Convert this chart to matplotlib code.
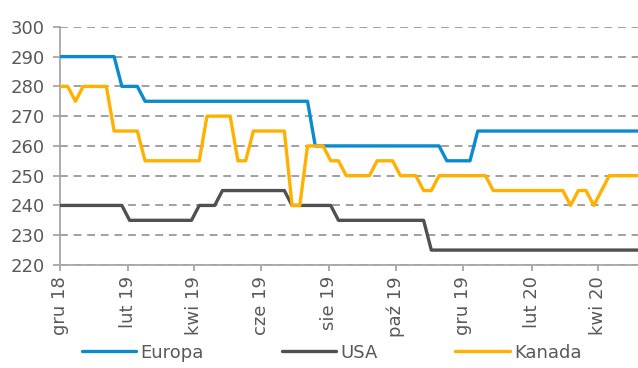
import pandas as pd
import matplotlib.pyplot as plt

# notowania tygodniowe od grudnia 2018
dates = pd.date_range('2018-12-01', periods=76, freq='7D')

europa = [290, 290, 290, 290, 290, 290, 290, 290,
          280, 280, 280,
          275, 275, 275, 275, 275, 275, 275, 275, 275, 275, 275,
          275, 275, 275, 275, 275, 275, 275, 275, 275, 275, 275,
          260, 260, 260, 260, 260, 260, 260, 260, 260, 260, 260, 260, 260, 260, 260, 260, 260,
          255, 255, 255, 255,
          265, 265, 265, 265, 265, 265, 265, 265, 265, 265, 265,
          265, 265, 265, 265, 265, 265, 265, 265, 265, 265, 265]

usa = [240, 240, 240, 240, 240, 240, 240, 240, 240,
       235, 235, 235, 235, 235, 235, 235, 235, 235,
       240, 240, 240,
       245, 245, 245, 245, 245, 245, 245, 245, 245,
       240, 240, 240, 240, 240, 240,
       235, 235, 235, 235, 235, 235, 235, 235, 235, 235, 235, 235,
       225, 225, 225, 225, 225, 225, 225, 225, 225, 225, 225, 225, 225, 225,
       225, 225, 225, 225, 225, 225, 225, 225, 225, 225, 225, 225, 225, 225]

kanada = [280, 280, 275, 280, 280, 280, 280,
          265, 265, 265, 265,
          255, 255, 255, 255, 255, 255, 255, 255,
          270, 270, 270, 270,
          255, 255,
          265, 265, 265, 265, 265,
          240, 240,
          260, 260, 260,
          255, 255,
          250, 250, 250, 250,
          255, 255, 255,
          250, 250, 250,
          245, 245,
          250, 250, 250, 250, 250, 250, 250,
          245, 245, 245, 245, 245, 245, 245, 245, 245, 245,
          240, 245, 245, 240, 245,
          250, 250, 250, 250, 250]

tick_dates = ['2018-12-01', '2019-02-01', '2019-04-01', '2019-06-01', '2019-08-01',
              '2019-10-01', '2019-12-01', '2020-02-01', '2020-04-01']
tick_labels = ['gru 18', 'lut 19', 'kwi 19', 'cze 19', 'sie 19',
               'paź 19', 'gru 19', 'lut 20', 'kwi 20']

txt = '#595959'
fig = plt.figure(figsize=(6.38, 3.68), dpi=100)
ax = fig.add_axes([0.094, 0.28, 0.906, 0.647])

kw = dict(lw=2.4, solid_joinstyle='round', solid_capstyle='round', zorder=3)
ax.plot(dates, europa, color='#0A8BD0', label='Europa', **kw)
ax.plot(dates, usa, color='#505050', label='USA', **kw)
ax.plot(dates, kanada, color='#FFB000', label='Kanada', **kw)

ax.set_ylim(220, 300)
ax.set_yticks(range(220, 301, 10))
ax.set_xlim(pd.Timestamp('2018-12-01'), pd.Timestamp('2020-05-07'))
ax.set_xticks(pd.to_datetime(tick_dates))
ax.set_xticklabels(tick_labels, rotation=90)

# przerywana siatka pozioma
ax.yaxis.grid(True, color='#A0A0A0', lw=1.4, linestyle=(0, (4, 3)), zorder=1)
for s in ['top', 'right']:
    ax.spines[s].set_visible(False)
for s in ['left', 'bottom']:
    ax.spines[s].set_color('#A6A6A6')
    ax.spines[s].set_linewidth(1.3)
ax.tick_params(axis='y', length=5, width=1.3, color='#A6A6A6', labelcolor=txt,
               labelsize=13, pad=6)
ax.tick_params(axis='x', length=4, width=1.3, color='#A6A6A6', labelcolor=txt,
               labelsize=13, pad=4)

leg = fig.legend(loc='center', bbox_to_anchor=(0.52, 0.042), ncol=3, frameon=False,
                 fontsize=13, handlelength=3.0, handletextpad=0.25, columnspacing=4.3)
for t in leg.get_texts():
    t.set_color(txt)

plt.savefig('out.png', dpi=100)
